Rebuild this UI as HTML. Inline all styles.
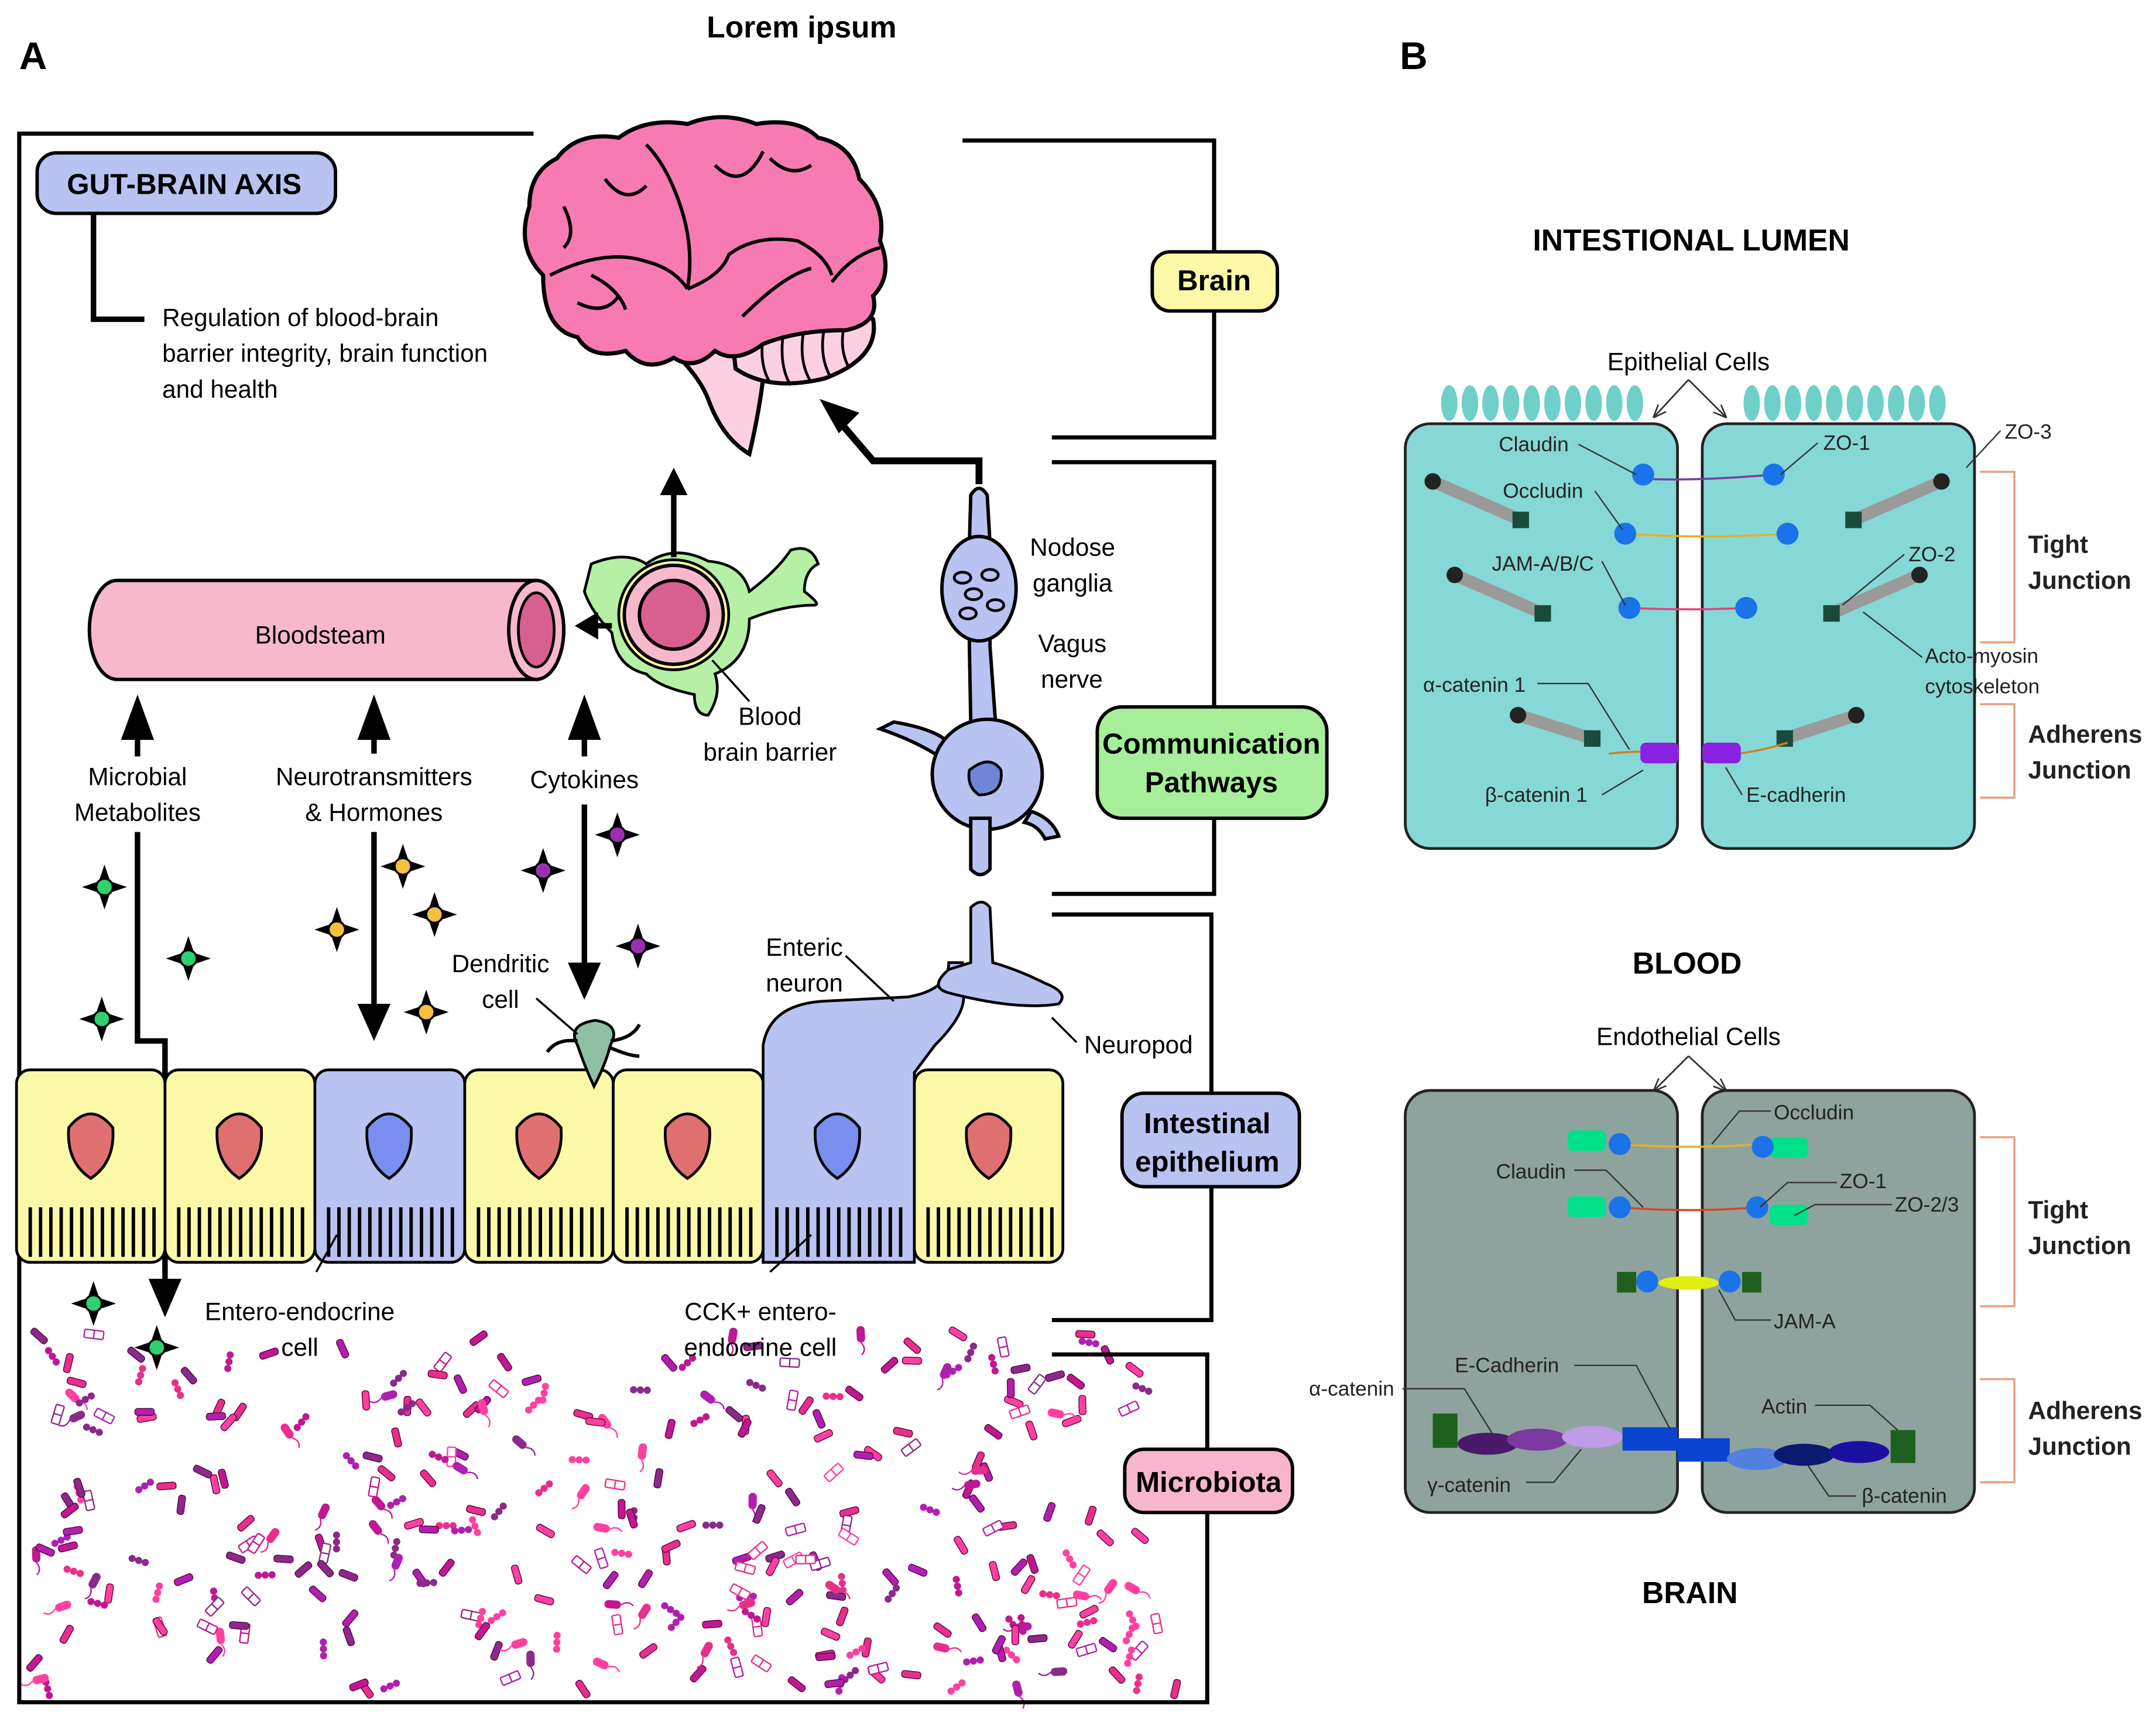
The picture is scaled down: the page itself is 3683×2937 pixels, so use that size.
<!DOCTYPE html>
<html><head><meta charset="utf-8"><style>
html,body{margin:0;padding:0;background:#fff}
svg{display:block}
text{font-family:"Liberation Sans",sans-serif}
</style></head><body>
<svg id="s" width="3683" height="2937" viewBox="0 0 1568 1250" xmlns="http://www.w3.org/2000/svg">
<defs>
<marker id="sa" viewBox="0 0 10 10" refX="9" refY="5" markerWidth="8" markerHeight="8" orient="auto"><path d="M0,1 L10,5 L0,9" fill="none" stroke="#333" stroke-width="1.2"/></marker>
</defs>
<rect width="1568" height="1250" fill="#fff"/>
<g id="micro"></g>
<text x="583" y="27" font-size="22" font-weight="bold" text-anchor="middle">Lorem ipsum</text>
<text x="14" y="50" font-size="28" font-weight="bold">A</text>
<text x="1018" y="50" font-size="28" font-weight="bold">B</text>

<!-- frame -->
<g stroke="#000" stroke-width="3" fill="none">
<polyline points="388,97 14,97 14,1238 878,1238 878,985 765,985"/>
<polyline points="700,102 883,102 883,318 765,318"/>
<polyline points="765,336 883,336 883,650 765,650"/>
<polyline points="765,665 881,665 881,960 765,960"/>
<polyline points="68,155 68,232 105,232" stroke-width="4"/>
</g>

<!-- pills -->
<rect x="27" y="111" width="217" height="44" rx="14" fill="#b9c3f2" stroke="#000" stroke-width="2.5"/>
<text x="134" y="141" font-size="21" font-weight="bold" text-anchor="middle">GUT-BRAIN AXIS</text>
<g font-size="18"><text x="118" y="237">Regulation of blood-brain</text><text x="118" y="263">barrier integrity, brain function</text><text x="118" y="289">and health</text></g>
<rect x="838" y="183" width="91" height="43" rx="13" fill="#fdf7a8" stroke="#000" stroke-width="2.5"/>
<text x="883" y="211" font-size="21" font-weight="bold" text-anchor="middle">Brain</text>
<rect x="798" y="514" width="167" height="81" rx="18" fill="#a6ee9a" stroke="#000" stroke-width="2.5"/>
<text x="881" y="548" font-size="21" font-weight="bold" text-anchor="middle">Communication</text>
<text x="881" y="576" font-size="21" font-weight="bold" text-anchor="middle">Pathways</text>
<rect x="816" y="795" width="129" height="68" rx="16" fill="#b9c3f2" stroke="#000" stroke-width="2.5"/>
<text x="878" y="824" font-size="21" font-weight="bold" text-anchor="middle">Intestinal</text>
<text x="878" y="852" font-size="21" font-weight="bold" text-anchor="middle">epithelium</text>
<rect x="818" y="1054" width="122" height="46" rx="14" fill="#f7b6ce" stroke="#000" stroke-width="2.5"/>
<text x="879" y="1085" font-size="21" font-weight="bold" text-anchor="middle">Microbiota</text>

<!-- brain -->
<path d="M470,240 Q505,265 515,290 Q525,318 545,330 Q552,300 555,275 L560,240 Z" fill="#fcd0e2" stroke="#000" stroke-width="3"/>
<path d="M530,225 Q600,212 635,232 Q640,260 600,275 Q560,285 535,268 Z" fill="#fcd0e2" stroke="#000" stroke-width="3"/>
<g stroke="#000" stroke-width="2" fill="none"><path d="M555,245 Q552,265 560,278"/><path d="M570,240 Q566,265 575,280"/><path d="M585,238 Q580,262 590,278"/><path d="M600,236 Q595,258 604,274"/><path d="M614,236 Q610,255 618,268"/></g>
<path d="M395,200 Q375,180 385,150 Q385,125 405,115 Q420,95 450,100 Q470,85 500,90 Q525,80 550,90 Q580,85 595,100 Q620,105 625,130 Q645,150 640,175 Q650,200 635,215 Q640,235 615,240 Q580,240 555,250 Q535,265 520,255 Q505,270 490,260 Q470,272 455,255 Q430,262 420,245 Q395,240 395,200 Z" fill="#f77bb2" stroke="#000" stroke-width="3"/>
<g stroke="#000" stroke-width="2.5" fill="none">
<path d="M400,200 Q440,180 470,190 Q490,195 500,210"/><path d="M500,210 Q505,180 495,150 Q485,120 470,105"/><path d="M500,210 Q525,200 530,185 Q550,170 580,175 Q600,185 605,200"/><path d="M440,130 Q455,150 470,135"/><path d="M520,120 Q540,140 555,110"/><path d="M560,115 Q575,130 590,120"/><path d="M420,220 Q440,230 450,215"/><path d="M540,230 Q570,200 590,195"/><path d="M605,205 Q620,185 640,180"/><path d="M430,200 Q450,210 455,225"/><path d="M410,150 Q420,170 410,180"/></g>
<!-- nerve arrow -->
<polyline points="712,352 712,335 635,335 605,300" fill="none" stroke="#000" stroke-width="5" stroke-linejoin="miter"/>
<path d="M596,290 L625,300 L610,315 Z" fill="#000"/>

<!-- neuron -->
<g fill="#b9c3f2" stroke="#000" stroke-width="2.5">
<path d="M706,360 Q712,350 718,360 L720,395 L720,470 L724,525 L706,525 L705,470 L705,395 Z"/>
<ellipse cx="712" cy="428" rx="27" ry="38"/>
<path d="M650,525 Q680,530 690,540 L690,555 Q670,540 640,530 Z"/>
<circle cx="718" cy="563" r="40"/>
<path d="M706,595 L720,595 L720,632 Q713,640 706,632 Z"/>
<path d="M750,590 Q765,595 770,608 L760,610 Q755,600 745,598 Z"/>
</g>
<g fill="#b9c3f2" stroke="#000" stroke-width="2"><ellipse cx="700" cy="420" rx="6" ry="4"/><ellipse cx="720" cy="418" rx="6" ry="4"/><ellipse cx="708" cy="432" rx="6" ry="4"/><ellipse cx="724" cy="440" rx="6" ry="4"/><ellipse cx="704" cy="446" rx="6" ry="4"/></g>
<path d="M705,560 Q720,548 728,560 Q730,578 712,578 Q703,572 705,560Z" fill="#6f86d8" stroke="#000" stroke-width="2"/>
<g font-size="18"><text x="749" y="404">Nodose</text><text x="751" y="430">ganglia</text><text x="755" y="474">Vagus</text><text x="757" y="500">nerve</text></g>

<!-- bloodstream -->
<path d="M85,422 L390,422 A20,36 0 0 1 390,494 L85,494 A20,36 0 0 1 85,422 Z" fill="#f7b8cc" stroke="#000" stroke-width="2.5"/>
<ellipse cx="390" cy="458" rx="20" ry="36" fill="#f7b8cc" stroke="#000" stroke-width="2.5"/>
<ellipse cx="390" cy="458" rx="13" ry="27" fill="#d8608f" stroke="#000" stroke-width="2"/>
<text x="233" y="468" font-size="18" text-anchor="middle">Bloodsteam</text>

<!-- BBB -->
<path d="M430,410 Q455,400 470,410 Q490,395 515,408 Q540,410 545,430 Q565,415 575,400 Q590,395 595,410 Q585,415 585,430 Q598,440 592,440 Q570,440 545,450 Q545,480 520,490 Q525,505 515,520 Q505,520 505,505 Q480,500 470,490 Q448,485 445,460 Q430,445 425,430 Z" fill="#b6f0a4" stroke="#000" stroke-width="2"/>
<circle cx="490" cy="447" r="40" fill="#fdf7a8" stroke="#000" stroke-width="2"/>
<circle cx="490" cy="447" r="36" fill="#f7b8cc" stroke="#000" stroke-width="2.5"/>
<circle cx="490" cy="447" r="25" fill="#d8608f" stroke="#000" stroke-width="2.5"/>
<line x1="490" y1="405" x2="490" y2="355" stroke="#000" stroke-width="4"/><path d="M480,360 L490,340 L500,360Z"/>
<line x1="445" y1="455" x2="430" y2="455" stroke="#000" stroke-width="4"/><path d="M435,445 L418,455 L435,465Z"/>
<line x1="518" y1="480" x2="545" y2="510" stroke="#000" stroke-width="1.5"/>
<g font-size="18" text-anchor="middle"><text x="560" y="527">Blood</text><text x="560" y="553">brain barrier</text></g>

<!-- arrows -->
<g stroke="#000" stroke-width="4" fill="none">
<line x1="100" y1="550" x2="100" y2="520"/><line x1="272" y1="548" x2="272" y2="520"/><line x1="425" y1="550" x2="425" y2="520"/>
<polyline points="100,605 100,757 120,757 120,940"/>
<line x1="272" y1="605" x2="272" y2="740"/><line x1="425" y1="585" x2="425" y2="712"/>
</g>
<path d="M88,538 L100,505 L112,538Z"/><path d="M260,538 L272,505 L284,538Z"/><path d="M413,538 L425,505 L437,538Z"/>
<path d="M108,930 L120,958 L132,930Z"/><path d="M260,730 L272,757 L284,730Z"/><path d="M413,700 L425,727 L437,700Z"/>
<g font-size="18" text-anchor="middle"><text x="100" y="571">Microbial</text><text x="100" y="597">Metabolites</text><text x="272" y="571">Neurotransmitters</text><text x="272" y="597">&amp; Hormones</text><text x="425" y="573">Cytokines</text></g>

<g id="stars" stroke="#000" stroke-width="1.5"></g>

<!-- epithelium -->
<g stroke="#000" stroke-width="2">
<rect x="12" y="778" width="108" height="140" rx="10" fill="#fbf9a8"/>
<rect x="120" y="778" width="109" height="140" rx="10" fill="#fbf9a8"/>
<rect x="229" y="778" width="109" height="140" rx="10" fill="#b9c3f2"/>
<rect x="338" y="778" width="108" height="140" rx="10" fill="#fbf9a8"/>
<rect x="446" y="778" width="109" height="140" rx="10" fill="#fbf9a8"/>
<path d="M555,918 L555,760 Q560,730 600,728 L660,725 Q690,720 690,700 L700,700 L700,720 Q705,735 680,760 L665,780 L665,918 Z" fill="#b9c3f2"/>
<rect x="665" y="778" width="108" height="140" rx="10" fill="#fbf9a8"/>
<path d="M706,660 Q714,652 720,660 L722,700 Q740,705 760,715 Q778,722 770,730 Q740,735 690,722 Q675,718 690,705 L706,700 Z" fill="#b9c3f2"/>
</g>
<g id="nuc" stroke="#000" stroke-width="2"></g>
<g id="stripes" stroke="#000" stroke-width="2.5"></g>
<path d="M420,760 Q412,745 433,742 Q452,745 444,760 Q440,775 432,790 Q425,775 420,760Z" fill="#8fc0a4" stroke="#000" stroke-width="2"/>
<g stroke="#000" stroke-width="2.5" fill="none"><path d="M420,757 Q405,755 398,765"/><path d="M444,757 Q460,755 465,745"/><path d="M444,762 Q458,768 465,768"/></g>
<g stroke="#000" stroke-width="1.5"><line x1="390" y1="726" x2="420" y2="752"/><line x1="615" y1="695" x2="650" y2="728"/><line x1="765" y1="740" x2="783" y2="758"/><line x1="245" y1="898" x2="230" y2="925"/><line x1="590" y1="898" x2="560" y2="925"/></g>
<g font-size="18" text-anchor="middle"><text x="364" y="707">Dendritic</text><text x="364" y="733">cell</text><text x="585" y="695">Enteric</text><text x="585" y="721">neuron</text><text x="828" y="766">Neuropod</text><text x="218" y="960">Entero-endocrine</text><text x="218" y="986">cell</text><text x="553" y="960">CCK+ entero-</text><text x="553" y="986">endocrine cell</text></g>

<!-- Panel B -->
<text x="1230" y="182" font-size="22" font-weight="bold" text-anchor="middle">INTESTIONAL LUMEN</text>
<text x="1228" y="269" font-size="18" text-anchor="middle">Epithelial Cells</text>
<g stroke="#333" stroke-width="1.2" fill="none"><path d="M1228,276 L1203,303" marker-end="url(#sa)"/><path d="M1228,276 L1255,303" marker-end="url(#sa)"/></g>
<g id="villi" fill="#6fd0c9"></g>
<rect x="1022" y="308" width="198" height="309" rx="18" fill="#86d8d6" stroke="#222" stroke-width="2"/>
<rect x="1238" y="308" width="198" height="309" rx="18" fill="#86d8d6" stroke="#222" stroke-width="2"/>
<g id="rods"></g>
<g stroke="#e8a07a" stroke-width="1.5" fill="none"><path d="M1440,343 L1465,343 L1465,467 L1440,467"/><path d="M1440,512 L1465,512 L1465,580 L1440,580"/><path d="M1440,827 L1465,827 L1465,950 L1440,950"/><path d="M1440,1003 L1465,1003 L1465,1078 L1440,1078"/></g>
<g font-size="18" font-weight="bold" fill="#222"><text x="1475" y="402">Tight</text><text x="1475" y="428">Junction</text><text x="1475" y="540">Adherens</text><text x="1475" y="566">Junction</text><text x="1475" y="886">Tight</text><text x="1475" y="912">Junction</text><text x="1475" y="1032">Adherens</text><text x="1475" y="1058">Junction</text></g>
<g fill="none" stroke-width="1.5"><path d="M1195,348 Q1230,350 1290,345" stroke="#7040a0"/><path d="M1182,388 Q1240,392 1300,388" stroke="#e8b020"/><path d="M1185,442 Q1230,444 1270,442" stroke="#e04080"/><path d="M1170,548 Q1200,545 1210,548" stroke="#d08020"/><path d="M1265,548 Q1285,545 1300,540" stroke="#d08020"/></g>
<g fill="#1a73e8"><circle cx="1195" cy="345" r="8"/><circle cx="1290" cy="345" r="8"/><circle cx="1182" cy="388" r="8"/><circle cx="1300" cy="388" r="8"/><circle cx="1185" cy="442" r="8"/><circle cx="1270" cy="442" r="8"/></g>
<rect x="1193" y="540" width="28" height="15" rx="4" fill="#8a20e0"/><rect x="1238" y="540" width="28" height="15" rx="4" fill="#8a20e0"/>
<g font-size="15" fill="#222"><text x="1090" y="328">Claudin</text><text x="1093" y="362">Occludin</text><text x="1085" y="415">JAM-A/B/C</text><text x="1035" y="503">α-catenin 1</text><text x="1080" y="583">β-catenin 1</text><text x="1270" y="583">E-cadherin</text><text x="1326" y="327">ZO-1</text><text x="1458" y="319">ZO-3</text><text x="1388" y="408">ZO-2</text><text x="1400" y="482">Acto-myosin</text><text x="1400" y="504">cytoskeleton</text></g>
<g stroke="#333" stroke-width="1" fill="none"><path d="M1148,323 L1190,345"/><path d="M1160,357 L1180,385"/><path d="M1165,408 L1182,440"/><path d="M1118,497 L1155,497 L1185,545"/><path d="M1165,578 L1195,560"/><path d="M1267,578 L1255,558"/><path d="M1322,322 L1295,345"/><path d="M1455,313 L1430,340"/><path d="M1385,403 L1340,440"/><path d="M1398,478 L1355,445"/></g>

<text x="1227" y="708" font-size="22" font-weight="bold" text-anchor="middle">BLOOD</text>
<text x="1228" y="760" font-size="18" text-anchor="middle">Endothelial Cells</text>
<g stroke="#333" stroke-width="1.2" fill="none"><path d="M1228,768 L1203,793" marker-end="url(#sa)"/><path d="M1228,768 L1255,793" marker-end="url(#sa)"/></g>
<rect x="1022" y="793" width="198" height="307" rx="18" fill="#8fa39e" stroke="#222" stroke-width="2"/>
<rect x="1238" y="793" width="198" height="307" rx="18" fill="#8fa39e" stroke="#222" stroke-width="2"/>
<g fill="none" stroke-width="1.5"><path d="M1178,832 Q1230,836 1280,832" stroke="#e8b020"/><path d="M1178,878 Q1230,882 1278,878" stroke="#e04020"/></g>
<g fill="#00e08a"><rect x="1140" y="822" width="28" height="15" rx="4"/><rect x="1140" y="870" width="28" height="15" rx="4"/><rect x="1287" y="827" width="28" height="15" rx="4"/><rect x="1287" y="876" width="28" height="15" rx="4"/></g>
<g fill="#1a73e8"><circle cx="1178" cy="832" r="8"/><circle cx="1282" cy="834" r="8"/><circle cx="1178" cy="878" r="8"/><circle cx="1278" cy="878" r="8"/><circle cx="1198" cy="932" r="8"/><circle cx="1258" cy="932" r="8"/></g>
<rect x="1176" y="925" width="14" height="15" fill="#1e6020"/><rect x="1267" y="925" width="14" height="15" fill="#1e6020"/>
<ellipse cx="1228" cy="933" rx="22" ry="5" fill="#e0ee10"/>
<rect x="1042" y="1028" width="18" height="25" fill="#1e6020"/><rect x="1375" y="1040" width="18" height="24" fill="#1e6020"/>
<ellipse cx="1082" cy="1050" rx="22" ry="8" fill="#4a1a6a"/><ellipse cx="1118" cy="1047" rx="22" ry="8" fill="#7a3aa0"/><ellipse cx="1158" cy="1045" rx="22" ry="8" fill="#c09ce8"/>
<rect x="1180" y="1038" width="40" height="17" fill="#0a44d0"/><rect x="1220" y="1046" width="38" height="17" fill="#0a44d0"/>
<ellipse cx="1278" cy="1061" rx="22" ry="8" fill="#5080e0"/><ellipse cx="1312" cy="1058" rx="22" ry="8" fill="#0a1a70"/><ellipse cx="1352" cy="1056" rx="22" ry="8" fill="#1a10a0"/>
<g font-size="15" fill="#222"><text x="1290" y="814">Occludin</text><text x="1088" y="857">Claudin</text><text x="1338" y="864">ZO-1</text><text x="1378" y="881">ZO-2/3</text><text x="1290" y="966">JAM-A</text><text x="1058" y="998">E-Cadherin</text><text x="952" y="1015">α-catenin</text><text x="1281" y="1028">Actin</text><text x="1038" y="1085">γ-catenin</text><text x="1354" y="1093">β-catenin</text></g>
<g stroke="#333" stroke-width="1" fill="none"><path d="M1288,808 L1265,808 L1245,832"/><path d="M1145,851 L1168,851 L1195,878"/><path d="M1336,860 L1300,860 L1280,878"/><path d="M1376,876 L1320,876 L1305,884"/><path d="M1288,960 L1262,960 L1250,938"/><path d="M1145,993 L1190,993 L1215,1040"/><path d="M1020,1010 L1065,1010 L1085,1042"/><path d="M1320,1022 L1360,1022 L1380,1040"/><path d="M1110,1078 L1130,1078 L1150,1054"/><path d="M1350,1088 L1330,1088 L1315,1066"/></g>
<text x="1229" y="1166" font-size="22" font-weight="bold" text-anchor="middle">BRAIN</text>

<script>
var NS="http://www.w3.org/2000/svg";
function el(p,t,a){var e=document.createElementNS(NS,t);for(var k in a)e.setAttribute(k,a[k]);p.appendChild(e);return e;}
var g;
g=document.getElementById('villi');
for(var i=0;i<10;i++){el(g,'ellipse',{cx:1054+i*15,cy:293,rx:6,ry:13});el(g,'ellipse',{cx:1274+i*15,cy:293,rx:6,ry:13});}
g=document.getElementById('rods');
[[1042,350,1106,378],[1058,418,1122,446],[1104,520,1158,537],[1412,350,1348,378],[1396,418,1332,446],[1350,520,1298,537]].forEach(function(r){
el(g,'line',{x1:r[0],y1:r[1],x2:r[2],y2:r[3],stroke:'#9a9a9a','stroke-width':9});
el(g,'circle',{cx:r[0],cy:r[1],r:6,fill:'#222'});
el(g,'rect',{x:r[2]-6,y:r[3]-6,width:12,height:12,fill:'#1a4a3a'});});
g=document.getElementById('nuc');
[[66,'#e07070'],[174,'#e07070'],[283,'#7a8ef0'],[392,'#e07070'],[500,'#e07070'],[609,'#7a8ef0'],[719,'#e07070']].forEach(function(n){
var x=n[0];el(g,'path',{d:'M'+(x-16)+',820 Q'+x+',800 '+(x+16)+',820 Q'+(x+18)+',845 '+x+',857 Q'+(x-18)+',845 '+(x-16)+',820Z',fill:n[1]});});
g=document.getElementById('stripes');
[12,120,229,338,446,555,665].forEach(function(x0){for(var k=0;k<13;k++){var x=x0+10+k*7.5;el(g,'line',{x1:x,y1:878,x2:x,y2:914});}});
g=document.getElementById('stars');
function star(x,y,c){var d='';for(var k=0;k<8;k++){var a=k*Math.PI/4,r=k%2?5:14;d+=(k?'L':'M')+(x+r*Math.cos(a))+','+(y+r*Math.sin(a));}el(g,'path',{d:d+'Z',fill:'#000'});el(g,'circle',{cx:x,cy:y,r:6,fill:c});}
[[76,645],[137,697],[74,741],[68,948],[114,980]].forEach(function(p){star(p[0],p[1],'#2fd070');});
[[293,630],[316,665],[245,676],[310,736]].forEach(function(p){star(p[0],p[1],'#f5c040');});
[[449,607],[395,633],[464,688]].forEach(function(p){star(p[0],p[1],'#9a30b0');});
g=document.getElementById('micro');
var seed=7;function rnd(){seed=(seed*16807)%2147483647;return seed/2147483647;}
var cols=['#e8308a','#c01890','#8a2a8a','#ff40a0','#b020b0'];
for(var i=0;i<330;i++){var x=25+rnd()*830,y=970+rnd()*260,c=cols[Math.floor(rnd()*5)],t=rnd(),a=Math.floor(rnd()*180);
if(x>810&&y>1045&&y<1110)continue;
var gg=el(g,'g',{transform:'translate('+x+','+y+') rotate('+a+')'});
if(t<0.45)el(gg,'rect',{x:-7,y:-2.5,width:14,height:5,rx:2,fill:c,stroke:'#600040','stroke-width':0.6});
else if(t<0.7){for(var k=0;k<3;k++)el(gg,'circle',{cx:-5+k*5,cy:0,r:2.6,fill:c});}
else if(t<0.85){el(gg,'rect',{x:-6,y:-3,width:12,height:6,rx:3,fill:c});el(gg,'path',{d:'M6,0 q5,-4 9,0',stroke:c,fill:'none','stroke-width':1});}
else{el(gg,'rect',{x:-7,y:-3,width:14,height:6,rx:1,fill:'#fff',stroke:c,'stroke-width':1});el(gg,'line',{x1:0,y1:-3,x2:0,y2:3,stroke:c});}}
</script>
</svg>
</body></html>
